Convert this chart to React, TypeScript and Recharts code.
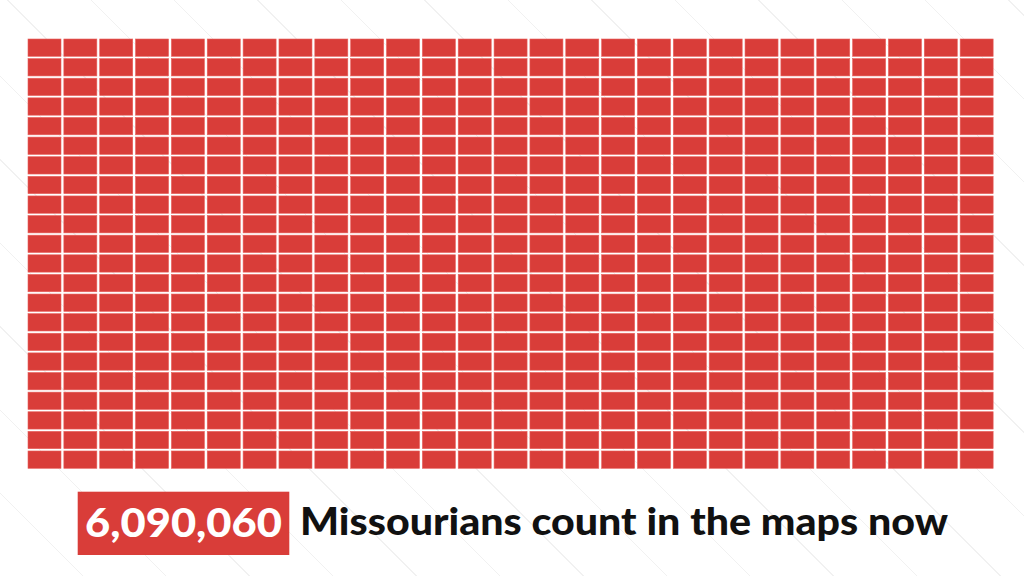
import React from "react";
import { BarChart, Bar, XAxis, YAxis } from "recharts";

// Each column of the waffle holds this many blocks (27 columns × 22 rows)
const columnLabels = [
  "C1", "C2", "C3", "C4", "C5", "C6", "C7", "C8", "C9",
  "C10", "C11", "C12", "C13", "C14", "C15", "C16", "C17", "C18",
  "C19", "C20", "C21", "C22", "C23", "C24", "C25", "C26", "C27",
];
const columnBlocks = [
  22, 22, 22, 22, 22, 22, 22, 22, 22,
  22, 22, 22, 22, 22, 22, 22, 22, 22,
  22, 22, 22, 22, 22, 22, 22, 22, 22,
];
const totalLabel = "6,090,060";
const captionLabel = "Missourians count in the maps now";

const RED = "#d93d39";
const ROW_GAP = 2.3;

const data = columnLabels.map((c, i) => ({ col: c, blocks: columnBlocks[i] }));

const WaffleColumn = (props: any) => {
  const { x, y, width, height, payload } = props;
  const n = payload.blocks;
  if (!n || !height) return null;
  const cellH = height / n;
  const cells = [];
  for (let i = 0; i < n; i++) {
    cells.push(
      <rect
        key={i}
        x={x}
        y={y + i * cellH}
        width={width}
        height={cellH - ROW_GAP}
        fill={RED}
        stroke="#e8605c"
        strokeWidth={0.6}
      />
    );
  }
  return <g>{cells}</g>;
};

export default function App() {
  return (
    <div
      style={{
        position: "absolute",
        left: 0,
        top: 0,
        width: 1024,
        height: 576,
        background:
          "repeating-linear-gradient(45deg, #ffffff 0px, #ffffff 58px, #f1f1f1 58px, #f1f1f1 59px)",
      }}
    >
      <BarChart
        width={1024}
        height={576}
        data={data}
        margin={{ top: 39, left: 26.65, right: 29.35, bottom: 105.4 }}
        barCategoryGap={1.35}
      >
        <XAxis dataKey="col" hide />
        <YAxis hide domain={[0, 22]} />
        <Bar dataKey="blocks" isAnimationActive={false} shape={<WaffleColumn />} fill={RED} />
      </BarChart>
      <svg
        width={1024}
        height={576}
        style={{ position: "absolute", left: 0, top: 0, pointerEvents: "none" }}
      >
        <rect x={77.7} y={491.7} width={211.6} height={63.3} fill={RED} />
        <text
          x={85}
          y={537}
          fill="#ffffff"
          fontFamily="Lato, 'Open Sans', sans-serif"
          fontWeight={900}
          fontSize={39}
          textLength={197}
          lengthAdjust="spacingAndGlyphs"
        >
          {totalLabel}
        </text>
        <text
          x={300}
          y={535}
          fill="#111111"
          fontFamily="Lato, 'Open Sans', sans-serif"
          fontWeight={900}
          fontSize={38}
          textLength={648}
          lengthAdjust="spacingAndGlyphs"
        >
          {captionLabel}
        </text>
      </svg>
    </div>
  );
}
